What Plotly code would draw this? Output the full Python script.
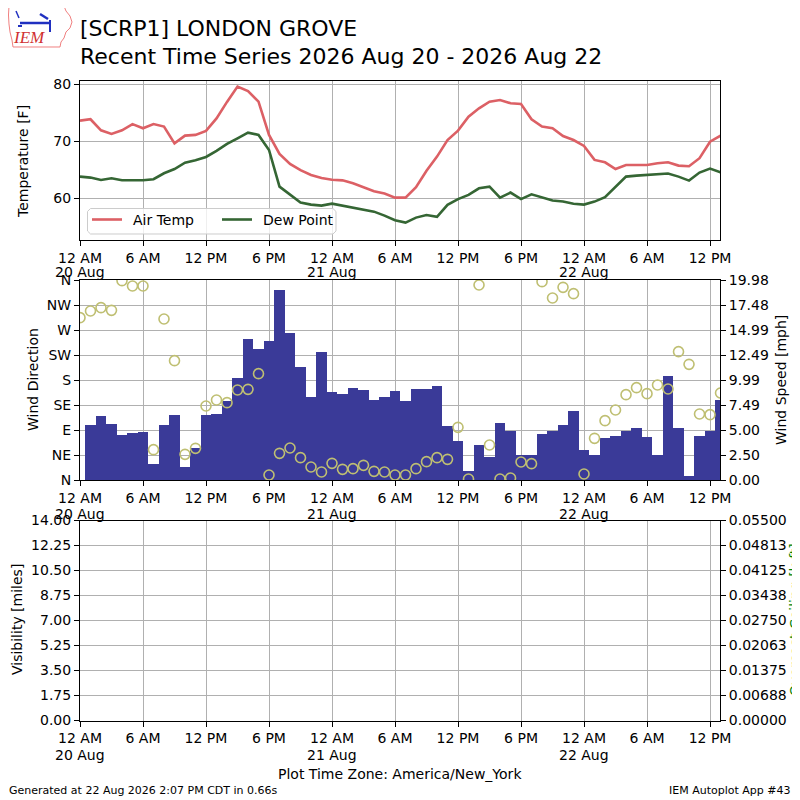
import pandas as pd
import plotly.graph_objects as go

# ---------------- data ----------------
station_title = "[SCRP1] LONDON GROVE"
subtitle = "Recent Time Series 2026 Aug 20 - 2026 Aug 22"

obs_times = pd.date_range("2026-08-20 00:00", periods=62, freq="h")
wind_times = pd.date_range("2026-08-20 01:00", periods=61, freq="h")

air_temp = [73.6, 73.85, 71.9, 71.27, 71.9, 73.0, 72.26, 73.0, 72.56, 69.6,
            70.97, 71.1, 71.8, 74.0, 76.9, 79.6, 78.8, 76.95, 71.1, 67.75,
            66.0, 64.9, 64.05, 63.5, 63.2, 63.1, 62.6, 61.9, 61.2, 60.8,
            60.07, 60.07, 61.9, 64.8, 67.28, 70.2, 71.85, 74.3, 75.78, 76.95,
            77.24, 76.66, 76.54, 73.84, 72.56, 72.26, 70.9, 70.2, 69.16, 66.7,
            66.28, 65.1, 65.8, 65.8, 65.8, 66.1, 66.28, 65.7, 65.58, 67.0,
            69.9, 70.97]

dew_point = [63.76, 63.59, 63.18, 63.47, 63.12, 63.06, 63.12, 63.3, 64.35, 65.1,
             66.2, 66.64, 67.22, 68.28, 69.5, 70.5, 71.5, 71.1, 68.45, 62.0,
             60.54, 59.2, 58.84, 58.66, 59.0, 58.66, 58.25, 57.9, 57.6, 56.9,
             56.08, 55.67, 56.55, 57.0, 56.7, 58.8, 59.8, 60.54, 61.7, 62.0,
             60.07, 60.95, 59.8, 60.65, 60.13, 59.55, 59.37, 59.0, 58.84, 59.37,
             60.13, 62.0, 63.76, 63.94, 64.06, 64.3, 64.3, 63.76, 63.06, 64.47,
             65.17, 64.53]

wind_dir = [292.2, 304.2, 310.2, 305.4, 358.8, 349.2, 349.2, 54.6, 289.8, 214.8,
            46.2, 57, 133.2, 144, 139.2, 162, 163.2, 191.4, 9, 48,
            57.6, 40.2, 23.4, 14.4, 30, 19.2, 20.4, 26.4, 15.6, 14.4,
            9, 9, 20.4, 33, 40.2, 37.2, 94.8, 1.8, 351, 63,
            1.8, 3.6, 32.4, 29.4, 357, 327.6, 346.8, 335.4, 10.8, 75,
            106.8, 126, 153.6, 166.2, 155.4, 171, 163.8, 231, 208.2, 118.8,
            117.6, 156.6]

wind_speed = [5.49, 6.39, 5.59, 4.5, 4.7, 4.8, 1.63, 5.49, 6.49, 1.3,
              3.2, 6.49, 6.59, 7.93, 10.19, 14.09, 13.09, 13.89, 18.98, 14.72,
              11.29, 8.29, 12.79, 8.79, 8.59, 9.19, 8.99, 7.99, 8.29, 8.89,
              7.89, 9.09, 9.09, 9.39, 5.43, 3.9, 0.9, 3.5, 2.33, 5.69,
              4.93, 2.5, 2.5, 4.6, 4.93, 5.49, 6.89, 3.0, 2.5, 4.2,
              4.4, 4.93, 5.19, 4.3, 2.5, 10.39, 5.19, 0.4, 4.43, 4.93,
              7.99]

tick_times = pd.date_range("2026-08-20 00:00", periods=11, freq="6h")
tick_labels = ["12 AM", "6 AM", "12 PM", "6 PM", "12 AM",
               "6 AM", "12 PM", "6 PM", "12 AM", "6 AM", "12 PM"]
day_times = pd.date_range("2026-08-20 00:00", periods=3, freq="D")
day_labels = ["20 Aug", "21 Aug", "22 Aug"]

temp_ticks = [60, 70, 80]
dir_ticks = [0, 45, 90, 135, 180, 225, 270, 315, 360]
dir_labels = ["N", "NE", "E", "SE", "S", "SW", "W", "NW", "N"]
speed_max = 19.98
speed_labels = ["0.00", "2.50", "5.00", "7.49", "9.99", "12.49", "14.99", "17.48", "19.98"]
vis_max = 14.0
vis_labels = ["0.00", "1.75", "3.50", "5.25", "7.00", "8.75", "10.50", "12.25", "14.00"]
ceil_max = 0.055
ceil_labels = ["0.00000", "0.00688", "0.01375", "0.02063", "0.02750",
               "0.03438", "0.04125", "0.04813", "0.05500"]

x_start = "2026-08-20 00:00"
x_end = "2026-08-22 12:57"

# ---------------- style ----------------
FONT = "DejaVu Sans"
TEMP_C = "#dc6065"
DEW_C = "#356634"
BAR_C = "#3a3a98"
CIRC_C = "#bfbf72"
GRID = "#b0b0b0"
OFF = 8            # page body margin of the html page
W, H = 800 - OFF, 800 - OFF


def px(x):
    """page pixel x -> paper fraction"""
    return (x - OFF) / W


def py(y):
    """page pixel y -> paper fraction"""
    return 1 - (y - OFF) / H


XDOM = [px(80), px(720)]

fig = go.Figure()
fig.add_trace(go.Scatter(x=obs_times, y=air_temp, mode="lines", name="Air Temp",
                         line=dict(color=TEMP_C, width=2.6), xaxis="x", yaxis="y",
                         showlegend=False))
fig.add_trace(go.Scatter(x=obs_times, y=dew_point, mode="lines", name="Dew Point",
                         line=dict(color=DEW_C, width=2.6), xaxis="x", yaxis="y",
                         showlegend=False))
fig.add_trace(go.Bar(x=wind_times, y=wind_speed, width=3600000, name="Wind Speed",
                     marker=dict(color=BAR_C, line=dict(width=0)),
                     xaxis="x2", yaxis="y2", showlegend=False))
fig.add_trace(go.Scatter(x=obs_times, y=wind_dir, mode="markers", name="Wind Direction",
                         marker=dict(symbol="circle-open", size=10, color=CIRC_C,
                                     line=dict(width=1.6, color=CIRC_C)),
                         xaxis="x2", yaxis="y3", showlegend=False))
fig.add_trace(go.Scatter(x=[], y=[], xaxis="x3", yaxis="y4", showlegend=False))
fig.add_trace(go.Scatter(x=[], y=[], xaxis="x3", yaxis="y5", showlegend=False))

tickfont = dict(family=FONT, size=14, color="black")


def xax(anchor):
    return dict(type="date", range=[x_start, x_end], domain=XDOM, anchor=anchor,
                tickmode="array", tickvals=list(tick_times), ticktext=tick_labels,
                showgrid=True, gridcolor=GRID, gridwidth=1, zeroline=False,
                showline=True, linecolor="black", linewidth=1, mirror=True,
                ticks="outside", ticklen=5, tickwidth=1, tickcolor="black",
                tickfont=tickfont, automargin=False)


def yax(**kw):
    d = dict(showgrid=True, gridcolor=GRID, gridwidth=1, zeroline=False,
             showline=True, linecolor="black", linewidth=1, mirror=True,
             ticks="outside", ticklen=5, tickwidth=1, tickcolor="black",
             tickfont=tickfont, tickmode="array", automargin=False)
    d.update(kw)
    return d


fig.update_layout(
    width=W, height=H, margin=dict(l=0, r=0, t=0, b=0, autoexpand=False),
    paper_bgcolor="white", plot_bgcolor="white", showlegend=False,
    font=dict(family=FONT, size=14, color="black"),
    xaxis=xax("y"), xaxis2=xax("y2"), xaxis3=xax("y4"),
    yaxis=yax(domain=[py(240.3), py(80.7)], range=[52.56, 80.63], anchor="x",
              tickvals=temp_ticks, ticktext=[str(t) for t in temp_ticks]),
    yaxis2=yax(domain=[py(480), py(280)], range=[0, speed_max], anchor="x2", side="right",
               tickvals=[speed_max * i / 8 for i in range(9)], ticktext=speed_labels),
    yaxis3=yax(range=[0, 360], anchor="x2", overlaying="y2", side="left", showgrid=False,
               tickvals=dir_ticks, ticktext=dir_labels),
    yaxis4=yax(domain=[py(720.5), py(520.5)], range=[0, vis_max], anchor="x3",
               tickvals=[vis_max * i / 8 for i in range(9)], ticktext=vis_labels),
    yaxis5=yax(range=[0, ceil_max], anchor="x3", overlaying="y4", side="right", showgrid=False,
               tickvals=[ceil_max * i / 8 for i in range(9)], ticktext=ceil_labels),
    bargap=0,
)

ann = []


def text(x, y, s, size=14, color="black", xanchor="center", yanchor="middle", angle=0, **kw):
    ann.append(dict(x=px(x), y=py(y), xref="paper", yref="paper", text=s, showarrow=False,
                    xanchor=xanchor, yanchor=yanchor, textangle=angle,
                    font=dict(family=kw.pop("family", FONT), size=size, color=color), **kw))


text(78, 29, station_title, size=22, xanchor="left")
text(78, 57, subtitle, size=22, xanchor="left")
text(23, 162, "Temperature [F]", angle=-90)
text(33, 380, "Wind Direction", angle=-90)
text(781, 380, "Wind Speed [mph]", angle=-90)
text(17, 620, "Visibility [miles]", angle=-90)
text(795, 620, "Overcast Ceiling [k ft]", angle=-90, color="green")
text(400, 774, "Plot Time Zone: America/New_York", size=14)
text(7, 790, "Generated at 22 Aug 2026 2:07 PM CDT in 0.66s", size=11, xanchor="left")
text(793, 790, "IEM Autoplot App #43", size=11, xanchor="right")
text(29, 38, "<i>IEM</i>", size=17, color="#d03030", family="Liberation Serif")

# second line of the midnight tick labels (day), one row per panel, on the time axis
for xref, ypage in [("x", 272.5), ("x2", 513.5), ("x3", 755)]:
    for dt, lab in zip(day_times, day_labels):
        ann.append(dict(x=dt, y=py(ypage), xref=xref, yref="paper", text=lab,
                        showarrow=False, xanchor="center", yanchor="middle",
                        font=dict(family=FONT, size=14, color="black")))

# legend (drawn like the matplotlib legend box)
text(130.5, 219.5, "Air Temp", xanchor="left")
text(260.5, 219.5, "Dew Point", xanchor="left")

shapes = []
x0, x1, y0, y1, r = 87.5, 336, 208.5, 234, 3
frame = [(x0 + r, y0), (x1 - r, y0), (x1, y0 + r), (x1, y1 - r), (x1 - r, y1),
         (x0 + r, y1), (x0, y1 - r), (x0, y0 + r), (x0 + r, y0)]
shapes.append(dict(type="path", xref="paper", yref="paper", layer="above",
                   path="M " + " L ".join(f"{px(a):.5f},{py(b):.5f}" for a, b in frame) + " Z",
                   fillcolor="rgba(255,255,255,0.8)", line=dict(color="#cccccc", width=1)))
for (a, c, col) in [(92, 122, TEMP_C), (222, 252, DEW_C)]:
    shapes.append(dict(type="line", xref="paper", yref="paper", layer="above",
                       x0=px(a), x1=px(c), y0=py(219.5), y1=py(219.5),
                       line=dict(color=col, width=2.6)))

# logo outline (Iowa shape) and symbol
outline = [(9, 6), (64, 6), (66, 11), (70, 16), (72, 22), (70, 28), (66, 32),
           (64, 38), (61, 42), (60, 47), (13, 47), (12, 40), (10, 32), (9, 24), (8.5, 15), (9, 6)]
path = "M " + " L ".join(f"{px(a):.5f},{py(b):.5f}" for a, b in outline) + " Z"
shapes.append(dict(type="path", path=path, xref="paper", yref="paper",
                   line=dict(color="#f08080", width=1)))
for (a, b, c, d, w) in [(20, 23, 50, 23, 2.5), (40, 14, 48, 19, 2.5), (50, 20, 50, 32, 2),
                        (16, 11, 19, 18, 1.5), (18, 26, 22, 26, 2)]:
    shapes.append(dict(type="line", x0=px(a), y0=py(b), x1=px(c), y1=py(d), xref="paper",
                       yref="paper", line=dict(color="#2030c0", width=w)))

fig.update_layout(annotations=ann, shapes=shapes)
fig.write_html("out.html")
